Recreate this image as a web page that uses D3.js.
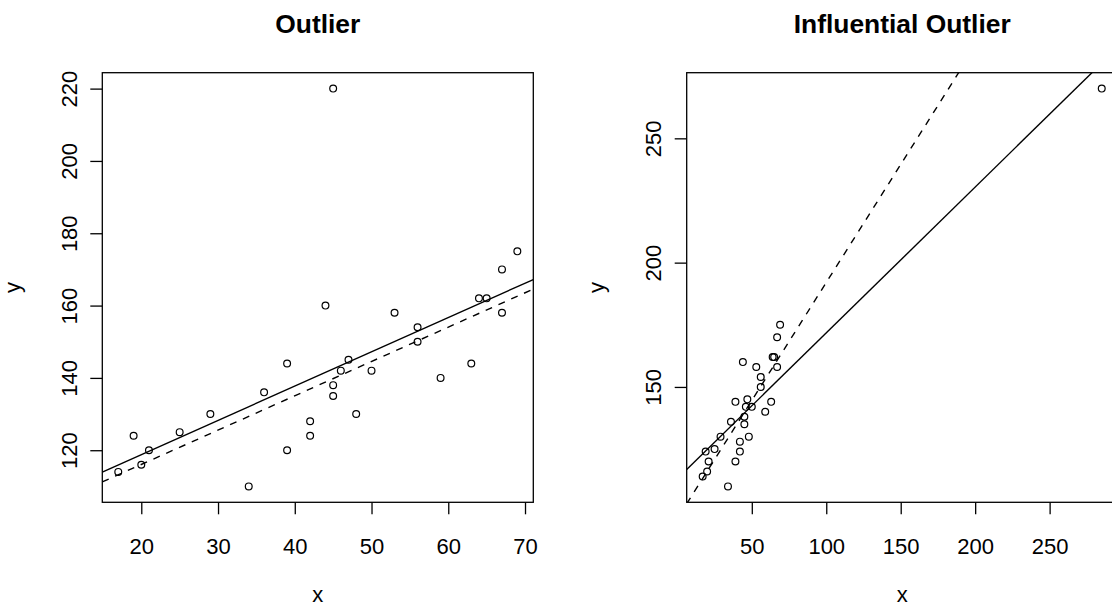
<!DOCTYPE html>
<html>
<head>
<meta charset="utf-8">
<script src="https://cdn.jsdelivr.net/npm/d3@7"></script>
<style>
  html, body { margin: 0; padding: 0; background: #fff; }
  svg { display: block; font-family: "Liberation Sans", Arial, sans-serif; }
</style>
</head>
<body>
<svg id="chart" width="1112" height="607"></svg>
<script>
// ---- data ----
const baseX = [17,19,20,21,25,29,34,36,39,39,42,42,44,45,45,46,47,48,50,53,56,56,59,63,64,65,67,67,69];
const baseY = [114,124,116,120,125,130,110,136,144,120,128,124,160,138,135,142,145,130,142,158,154,150,140,144,162,162,170,158,175];
const outlierPoint = [45, 220];
const influentialPoint = [285, 270];

const titles = ["Outlier", "Influential Outlier"];
const xTicksLeft = [20, 30, 40, 50, 60, 70];
const yTicksLeft = [120, 140, 160, 180, 200, 220];
const xTicksRight = [50, 100, 150, 200, 250];
const yTicksRight = [150, 200, 250];

// ---- helpers ----
function fit(xs, ys) {
  const mx = d3.mean(xs), my = d3.mean(ys);
  let sxy = 0, sxx = 0;
  xs.forEach((x, i) => { sxy += (x - mx) * (ys[i] - my); sxx += (x - mx) * (x - mx); });
  const b = sxy / sxx;
  return { a: my - b * mx, b };
}
function rlim(v) {
  const [lo, hi] = d3.extent(v);
  const d = (hi - lo) * 0.04;
  return [lo - d, hi + d];
}

const svg = d3.select("#chart");
const W = 431, H = 429.6, TOP = 72.7;
const fontTick = 22, fontTitle = 26.4;

function panel(idx, left, xs, ys, solidFit, dashedFit, xTicks, yTicks) {
  const x = d3.scaleLinear().domain(rlim(xs)).range([0, W]);
  const y = d3.scaleLinear().domain(rlim(ys)).range([H, 0]);
  const g = svg.append("g").attr("transform", `translate(${left},${TOP})`);

  const clipId = "clip" + idx;
  g.append("clipPath").attr("id", clipId)
    .append("rect").attr("x", 0).attr("y", 0).attr("width", W).attr("height", H);

  // axes
  const xa = g.append("g").attr("transform", `translate(0,${H})`)
    .call(d3.axisBottom(x).tickValues(xTicks).tickSize(12).tickSizeOuter(0).tickPadding(24).tickFormat(d3.format("d")));
  xa.select(".domain").remove();
  xa.selectAll("line").attr("stroke", "#000").attr("stroke-width", 1.3);
  xa.selectAll("text").attr("font-size", fontTick).attr("fill", "#000")
    .attr("font-family", "'Liberation Sans', Arial, sans-serif");

  const ya = g.append("g")
    .call(d3.axisLeft(y).tickValues(yTicks).tickSize(12).tickSizeOuter(0).tickFormat(d3.format("d")));
  ya.select(".domain").remove();
  ya.selectAll("line").attr("stroke", "#000").attr("stroke-width", 1.3);
  ya.selectAll("text")
    .attr("x", null).attr("dy", null)
    .attr("transform", "translate(-25.6,0) rotate(-90)")
    .attr("text-anchor", "middle")
    .attr("font-size", fontTick).attr("fill", "#000")
    .attr("font-family", "'Liberation Sans', Arial, sans-serif");

  // lines
  const lg = g.append("g").attr("clip-path", `url(#${clipId})`);
  const [x0, x1] = x.domain();
  [[solidFit, null], [dashedFit, "7,7"]].forEach(([f, dash]) => {
    lg.append("line")
      .attr("x1", x(x0)).attr("y1", y(f.a + f.b * x0))
      .attr("x2", x(x1)).attr("y2", y(f.a + f.b * x1))
      .attr("stroke", "#000").attr("stroke-width", 1.4)
      .attr("stroke-dasharray", dash);
  });

  // points
  g.append("g").selectAll("circle").data(xs.map((v, i) => [v, ys[i]])).join("circle")
    .attr("cx", d => x(d[0])).attr("cy", d => y(d[1])).attr("r", 3.4)
    .attr("fill", "none").attr("stroke", "#000").attr("stroke-width", 1.2);

  // box
  g.append("rect").attr("x", 0).attr("y", 0).attr("width", W).attr("height", H)
    .attr("fill", "none").attr("stroke", "#000").attr("stroke-width", 1.3);

  // titles & labels
  g.append("text").attr("x", W / 2).attr("y", 33 - TOP).attr("text-anchor", "middle")
    .attr("font-size", fontTitle).attr("font-weight", "bold").text(titles[idx]);
  g.append("text").attr("x", W / 2).attr("y", 602 - TOP).attr("text-anchor", "middle")
    .attr("font-size", fontTick).text("x");
  g.append("text").attr("transform", `translate(-82.3,${H / 2}) rotate(-90)`)
    .attr("text-anchor", "middle").attr("font-size", fontTick).text("y");
}

const leftX = baseX.concat([outlierPoint[0]]);
const leftY = baseY.concat([outlierPoint[1]]);
const rightX = baseX.concat([influentialPoint[0]]);
const rightY = baseY.concat([influentialPoint[1]]);
const fitBase = fit(baseX, baseY);

panel(0, 102.3, leftX, leftY, fit(leftX, leftY), fitBase, xTicksLeft, yTicksLeft);
panel(1, 686.7, rightX, rightY, fit(rightX, rightY), fitBase, xTicksRight, yTicksRight);
</script>
</body>
</html>
